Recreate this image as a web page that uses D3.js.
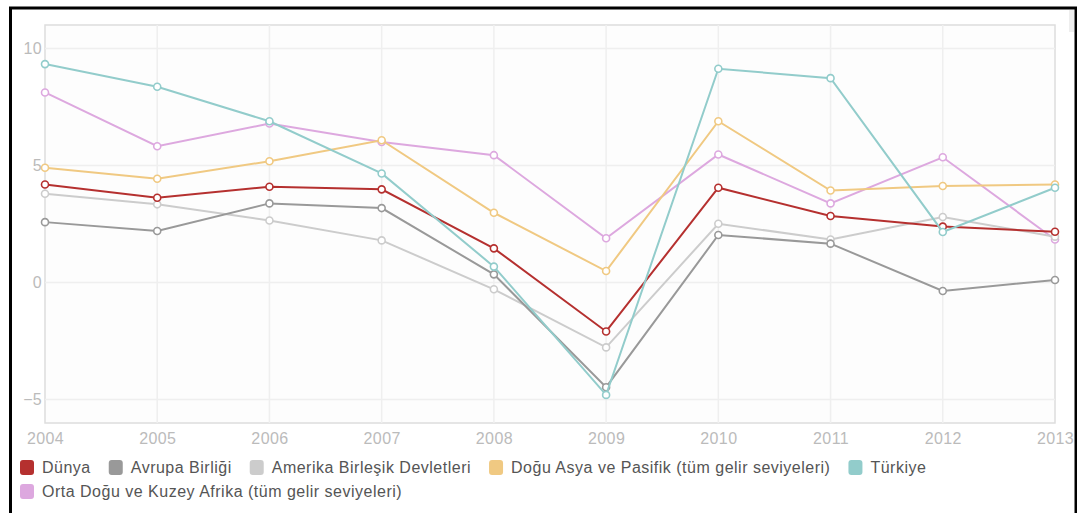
<!DOCTYPE html>
<html><head><meta charset="utf-8">
<script src="https://cdn.jsdelivr.net/npm/d3@7"></script>
<style>
html,body{margin:0;padding:0;background:#fff;}
svg{display:block;font-family:"Liberation Sans",Arial,sans-serif;}
</style></head>
<body>
<svg id="chart" width="1077" height="513"></svg>
<script>
const years = [2004,2005,2006,2007,2008,2009,2010,2011,2012,2013];
const yTicks = [-5,0,5,10];
const seriesNames = ["Dünya","Avrupa Birliği","Amerika Birleşik Devletleri","Doğu Asya ve Pasifik (tüm gelir seviyeleri)","Türkiye","Orta Doğu ve Kuzey Afrika (tüm gelir seviyeleri)"];
const seriesColors = ["#b5302f","#999999","#cccccc","#f0c982","#92cccb","#dda8df"];
const dunya   = [4.19,3.62,4.09,3.98,1.46,-2.09,4.05,2.84,2.39,2.17];
const avrupa  = [2.58,2.20,3.38,3.18,0.35,-4.47,2.03,1.66,-0.36,0.11];
const amerika = [3.79,3.34,2.65,1.80,-0.29,-2.77,2.51,1.84,2.80,1.96];
const doguAsya= [4.90,4.43,5.18,6.08,2.98,0.49,6.89,3.93,4.12,4.19];
const turkiye = [9.33,8.36,6.89,4.66,0.68,-4.80,9.13,8.73,2.16,4.05];
const ortaDogu= [8.12,5.82,6.79,6.00,5.44,1.89,5.47,3.38,5.35,1.84];
const seriesValues = [dunya,avrupa,amerika,doguAsya,turkiye,ortaDogu];
// drawing order (back to front)
const drawOrder = [5,3,2,1,0,4];

const svg = d3.select("#chart");
const L=45, R=1055, T=25, B=423;

// outer frame
svg.append("rect").attr("x",10.5).attr("y",8).attr("width",1065.5).attr("height",520)
  .attr("fill","#fff").attr("stroke","#000").attr("stroke-width",3);
svg.append("rect").attr("x",1069).attr("y",10).attr("width",5).attr("height",22).attr("fill","#eeeeee");

const x = d3.scaleLinear().domain([2004,2013]).range([L,R]);
const y = d3.scaleLinear().domain([-6,11]).range([B,T]);

svg.append("rect").attr("x",L).attr("y",T).attr("width",R-L).attr("height",B-T)
  .attr("fill","#fdfdfd").attr("stroke","#dddddd").attr("stroke-width",1.5);

// grid
svg.append("g").selectAll("line").data(years.slice(1,-1)).join("line")
  .attr("x1",d=>x(d)).attr("x2",d=>x(d)).attr("y1",T).attr("y2",B)
  .attr("stroke","#efefef").attr("stroke-width",1.5);
svg.append("g").selectAll("line").data(yTicks).join("line")
  .attr("x1",L).attr("x2",R).attr("y1",d=>y(d)).attr("y2",d=>y(d))
  .attr("stroke","#efefef").attr("stroke-width",1.5);

// axes
const yAxis = d3.axisLeft(y).tickValues(yTicks).tickSize(0).tickPadding(3);
const gy = svg.append("g").attr("transform",`translate(${L},0)`).call(yAxis);
gy.select(".domain").remove();
gy.selectAll("text").attr("fill","#bbbbbb").style("font-size","16px").style("letter-spacing","0.3px");

const xAxis = d3.axisBottom(x).tickValues(years).tickFormat(d3.format("d")).tickSize(0).tickPadding(10);
const gx = svg.append("g").attr("transform",`translate(0,${B})`).call(xAxis);
gx.select(".domain").remove();
gx.selectAll("text").attr("fill","#bbbbbb").style("font-size","16px").style("letter-spacing","0.4px");

// lines
const line = d3.line().x((d,i)=>x(years[i])).y(d=>y(d));
drawOrder.forEach(si=>{
  const g = svg.append("g");
  g.append("path").datum(seriesValues[si]).attr("d",line)
    .attr("fill","none").attr("stroke",seriesColors[si]).attr("stroke-width",2);
  g.selectAll("circle").data(seriesValues[si]).join("circle")
    .attr("cx",(d,i)=>x(years[i])).attr("cy",d=>y(d)).attr("r",3.5)
    .attr("fill","#fff").attr("stroke",seriesColors[si]).attr("stroke-width",1.6);
});

// legend
const leg = svg.append("g");
let lx = 20, ly = 460;
seriesNames.forEach((name,i)=>{
  if(i===5){ lx = 20; ly = 484; }
  const it = leg.append("g");
  it.append("rect").attr("x",lx).attr("y",ly).attr("width",14).attr("height",15).attr("rx",3)
    .attr("fill",seriesColors[i]);
  const t = it.append("text").attr("x",lx+22).attr("y",ly+13).attr("fill","#555")
    .style("font-size","16px").style("letter-spacing","0.5px").text(name);
  lx += 22 + t.node().getComputedTextLength() + 18;
});
</script>
</body></html>
